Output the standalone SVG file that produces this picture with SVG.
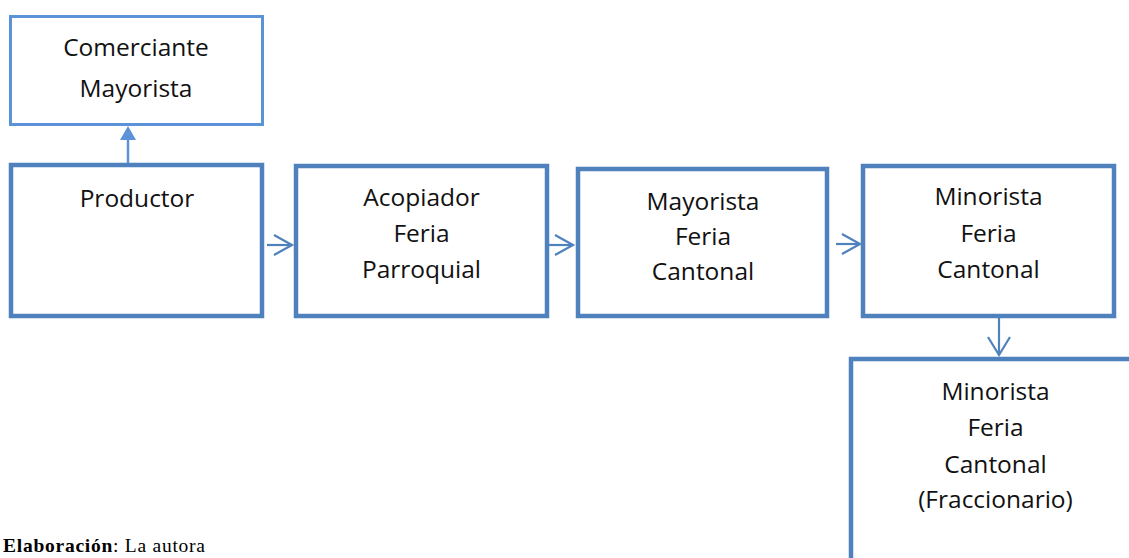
<svg xmlns="http://www.w3.org/2000/svg" width="1129" height="558" viewBox="0 0 1129 558">
<style>
.box{fill:#fff;stroke:#4F81BD;stroke-width:4.5}
.lbox{fill:#fff;stroke:#5B92D8;stroke-width:3}
.t{font-family:"Open Sans","Noto Sans",sans-serif;font-size:24.5px;fill:#111;text-anchor:middle}
.c{fill:none;stroke:#4F81BD;stroke-width:2.2}
.cap{font-family:"Liberation Serif",serif;font-size:19.5px;fill:#000}
</style>
<rect width="1129" height="558" fill="#fff"/>
<g id="comerciante">
<rect class="lbox" x="10.5" y="16.5" width="252" height="108"/>
<text class="t" x="136" y="56">Comerciante</text>
<text class="t" x="136" y="97">Mayorista</text>
</g>
<g id="productor">
<rect class="box" x="11" y="165" width="251" height="151"/>
<text class="t" x="137" y="207">Productor</text>
</g>
<g id="acopiador">
<rect class="box" x="296" y="166" width="251" height="150"/>
<text class="t" x="421.5" y="206">Acopiador</text>
<text class="t" x="421.5" y="242">Feria</text>
<text class="t" x="421.5" y="278">Parroquial</text>
</g>
<g id="mayorista">
<rect class="box" x="578" y="169" width="249" height="147"/>
<text class="t" x="703" y="210">Mayorista</text>
<text class="t" x="703" y="245">Feria</text>
<text class="t" x="703" y="280">Cantonal</text>
</g>
<g id="minorista">
<rect class="box" x="863" y="166" width="251" height="150"/>
<text class="t" x="988.5" y="205">Minorista</text>
<text class="t" x="988.5" y="242">Feria</text>
<text class="t" x="988.5" y="278">Cantonal</text>
</g>
<g id="fraccionario">
<rect class="box" x="851" y="359" width="300" height="220"/>
<text class="t" x="995.5" y="400">Minorista</text>
<text class="t" x="995.5" y="436">Feria</text>
<text class="t" x="995.5" y="473">Cantonal</text>
<text class="t" x="995.5" y="508">(Fraccionario)</text>
</g>
<g id="connectors">
<line x1="128" y1="163" x2="128" y2="139" stroke="#5B92D8" stroke-width="2.5"/>
<polygon points="128,126 120,140 136,140" fill="#5B92D8"/>
<line class="c" x1="267" y1="245" x2="292" y2="245"/>
<polyline class="c" points="274,235 292,245 274,255"/>
<line class="c" x1="549" y1="245" x2="573" y2="245"/>
<polyline class="c" points="555,235 573,245 555,255"/>
<line class="c" x1="836" y1="244" x2="860" y2="244"/>
<polyline class="c" points="842,234 860,244 842,254"/>
<line class="c" x1="999" y1="318" x2="999" y2="355"/>
<polyline class="c" points="988,337 999,355 1010,337"/>
</g>
<text class="cap" x="3" y="552" textLength="202" lengthAdjust="spacing"><tspan font-weight="bold">Elaboración</tspan>: La autora</text>
</svg>
